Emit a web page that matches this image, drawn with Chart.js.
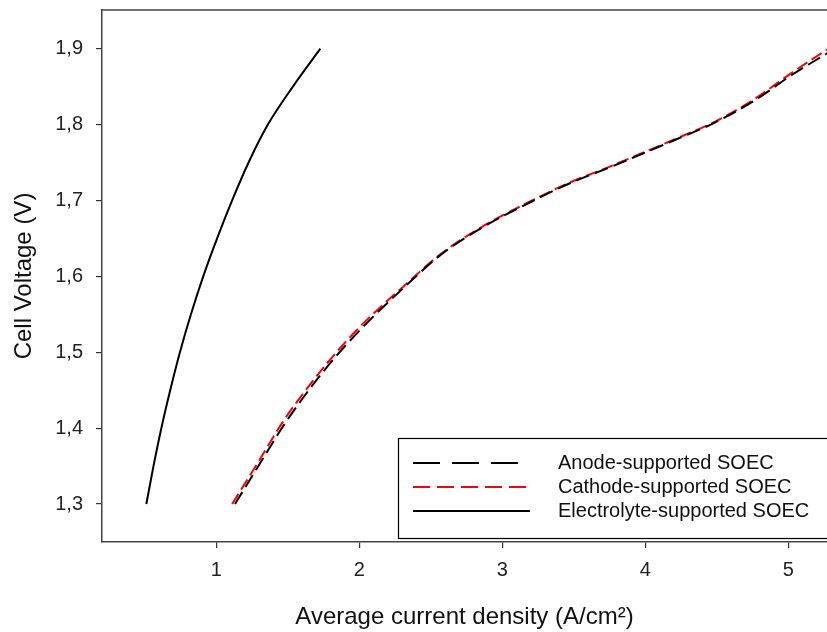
<!DOCTYPE html>
<html lang="en">
<head>
    <meta charset="utf-8" />
    <title>SOEC polarisation curves</title>
    <script src="https://cdn.jsdelivr.net/npm/chart.js"></script>
    <style>
        html, body { margin: 0; padding: 0; background: #fff; }
        #wrap { width: 827px; height: 632px; }
    </style>
</head>
<body>
<div id="wrap"><canvas id="soecChart" width="827" height="632"></canvas></div>

<script>
// values (current density A/cm2, cell voltage V)
var electroX = [0.51, 0.56, 0.615, 0.677, 0.745, 0.822, 0.908, 1.005, 1.11, 1.225, 1.36, 1.535, 1.727];
var electroY = [1.30, 1.35, 1.40, 1.45, 1.50, 1.55, 1.60, 1.65, 1.70, 1.75, 1.80, 1.85, 1.90];

var cathodeX = [1.11, 1.285, 1.46, 1.657, 1.867, 2.054, 2.31, 2.566, 2.846, 3.219, 3.476, 3.755, 4.035, 4.222, 4.478, 4.757, 5.037, 5.28];
var cathodeY = [1.30, 1.353, 1.407, 1.458, 1.506, 1.543, 1.587, 1.629, 1.664, 1.701, 1.724, 1.745, 1.767, 1.782, 1.803, 1.833, 1.870, 1.90];

var anodeX = [1.13, 1.30, 1.475, 1.67, 1.875, 2.06, 2.31, 2.566, 2.846, 3.219, 3.476, 3.755, 4.035, 4.222, 4.478, 4.757, 5.037, 5.28];
var anodeY = [1.30, 1.352, 1.405, 1.456, 1.503, 1.540, 1.585, 1.628, 1.663, 1.700, 1.723, 1.744, 1.766, 1.781, 1.802, 1.831, 1.867, 1.895];

var xTicks = [1, 2, 3, 4, 5];
var yTicks = [1.3, 1.4, 1.5, 1.6, 1.7, 1.8, 1.9];

var labels = ['Anode-supported SOEC', 'Cathode-supported SOEC', 'Electrolyte-supported SOEC'];

function toPoints(xs, ys) {
    var pts = [];
    for (var i = 0; i < xs.length; i++) {
        pts.push({ x: xs[i], y: ys[i] });
    }
    return pts;
}

var FONT = "'Liberation Sans', Arial, sans-serif";

// legend box sitting in the lower right corner of the plot
var boxLegend = {
    id: 'boxLegend',
    afterDatasetsDraw: function (chart) {
        var ctx = chart.ctx;
        var area = chart.chartArea;
        var left = area.right - 429, top = area.bottom - 104;
        ctx.save();
        ctx.fillStyle = '#fff';
        ctx.fillRect(left, top, 440, 100);
        ctx.strokeStyle = '#000';
        ctx.lineWidth = 1.2;
        ctx.strokeRect(left + 0.5, top + 0.5, 440, 100);
        ctx.font = '20px ' + FONT;
        ctx.textBaseline = 'middle';
        chart.data.datasets.forEach(function (ds, i) {
            var y = top + 25 + i * 24;
            ctx.strokeStyle = ds.borderColor;
            ctx.lineWidth = 2;
            ctx.setLineDash(ds.legendDash);
            ctx.beginPath();
            ctx.moveTo(left + 15, y);
            ctx.lineTo(left + 132, y);
            ctx.stroke();
            ctx.setLineDash([]);
            ctx.fillStyle = '#111';
            ctx.fillText(ds.label, left + 160, y);
        });
        ctx.restore();
    }
};

// line along the top of the plot frame
var topFrame = {
    id: 'topFrame',
    afterDraw: function (chart) {
        var ctx = chart.ctx;
        var area = chart.chartArea;
        ctx.save();
        ctx.strokeStyle = '#444';
        ctx.lineWidth = 1.5;
        ctx.beginPath();
        ctx.moveTo(area.left, area.top);
        ctx.lineTo(area.right + 2, area.top);
        ctx.stroke();
        ctx.restore();
    }
};

var ctx = document.getElementById('soecChart').getContext('2d');
var soecChart = new Chart(ctx, {
    type: 'scatter',
    data: {
        datasets: [{
            label: labels[0],
            data: toPoints(anodeX, anodeY),
            borderColor: '#000',
            borderWidth: 2,
            borderDash: [14, 6],
            legendDash: [27, 12],
            showLine: true,
            pointRadius: 0,
            cubicInterpolationMode: 'monotone'
        }, {
            label: labels[1],
            data: toPoints(cathodeX, cathodeY),
            borderColor: '#ff0000',
            borderWidth: 2,
            borderDash: [12, 5],
            legendDash: [17, 7],
            showLine: true,
            pointRadius: 0,
            cubicInterpolationMode: 'monotone'
        }, {
            label: labels[2],
            data: toPoints(electroX, electroY),
            borderColor: '#000',
            borderWidth: 2,
            legendDash: [],
            showLine: true,
            pointRadius: 0,
            cubicInterpolationMode: 'monotone'
        }]
    },
    options: {
        responsive: false,
        animation: false,
        layout: { padding: { top: 10, right: 0, left: 0, bottom: 0 } },
        plugins: {
            legend: { display: false },
            tooltip: { enabled: false }
        },
        scales: {
            x: {
                type: 'linear',
                min: 0.2,
                max: 5.27,
                afterBuildTicks: function (scale) {
                    scale.ticks = xTicks.map(function (v) { return { value: v }; });
                },
                afterFit: function (scale) {
                    scale.height = 90;
                    scale.paddingLeft = 0;
                    scale.paddingRight = 0;
                },
                grid: { drawOnChartArea: false, drawTicks: true, tickLength: 6, color: '#333', lineWidth: 1.2 },
                border: { display: true, color: '#444', width: 1.5 },
                ticks: {
                    font: { family: FONT, size: 20 },
                    color: '#222',
                    padding: 10,
                    maxRotation: 0,
                    callback: function (v) { return String(v); }
                },
                title: {
                    display: true,
                    text: 'Average current density (A/cm²)',
                    font: { family: FONT, size: 24 },
                    color: '#111',
                    padding: { top: 0, bottom: 0 }
                }
            },
            y: {
                type: 'linear',
                min: 1.25,
                max: 1.951,
                afterBuildTicks: function (scale) {
                    scale.ticks = yTicks.map(function (v) { return { value: v }; });
                },
                afterFit: function (scale) {
                    scale.width = 102;
                    scale.paddingTop = 0;
                    scale.paddingBottom = 0;
                },
                grid: { drawOnChartArea: false, drawTicks: true, tickLength: 6, color: '#333', lineWidth: 1.2 },
                border: { display: true, color: '#444', width: 1.5 },
                ticks: {
                    font: { family: FONT, size: 20 },
                    color: '#222',
                    padding: 13,
                    callback: function (v) { return v.toFixed(1).replace('.', ','); }
                },
                title: {
                    display: true,
                    text: 'Cell Voltage (V)',
                    font: { family: FONT, size: 24 },
                    color: '#111',
                    padding: { top: 10, bottom: 0 }
                }
            }
        }
    },
    plugins: [boxLegend, topFrame]
});
</script>
</body>
</html>
